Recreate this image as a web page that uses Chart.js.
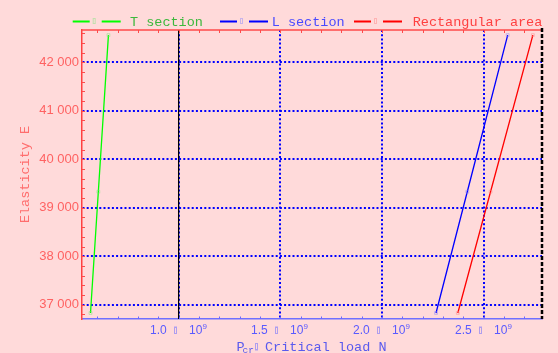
<!DOCTYPE html>
<html>
<head>
<meta charset="utf-8">
<script src="https://cdn.jsdelivr.net/npm/chart.js@4.4.1/dist/chart.umd.min.js"></script>
<style>
  html, body { margin: 0; padding: 0; background: #ffdada; }
  #wrap { width: 558px; height: 353px; }
</style>
</head>
<body>
<div id="wrap"><canvas id="c" width="558" height="353"></canvas></div>
<script>
// Series: critical load P (N) against elasticity E for three cross-sections
const seriesNames = ['T section', 'L section', 'Rectangular area'];
const seriesColors = ['#00ff00', '#0000ff', '#ff0000'];
const elasticity = [36830, 39330, 42560];
const loadT = [5.668e8, 6.053e8, 6.550e8];
const loadL = [2.2658e9, 2.4196e9, 2.6183e9];
const loadR = [2.3730e9, 2.5340e9, 2.7421e9];

// Axis ticks
const yTickValues = [37000, 38000, 39000, 40000, 41000, 42000];
const yTickLabels = ['37 000', '38 000', '39 000', '40 000', '41 000', '42 000'];
const xTickValues = [1.0e9, 1.5e9, 2.0e9, 2.5e9];
const xTickMantissas = ['1.0', '1.5', '2.0', '2.5'];
const xTickExponent = '9';

const xTitleMain = 'P';
const xTitleSub = 'cr';
const xTitleRest = 'Critical load N';
const yTitle = 'Elasticity E';

const loads = [loadT, loadL, loadR];
const paleColors = ['rgba(120,230,120,0.45)', 'rgba(130,130,255,0.45)', 'rgba(255,130,130,0.45)'];

const datasets = seriesNames.map((name, i) => ({
  label: name,
  data: elasticity.map((e, j) => ({ x: loads[i][j], y: e })),
  borderColor: seriesColors[i],
  borderWidth: 1.3,
  showLine: true,
  fill: false,
  pointStyle: 'rect',
  pointRadius: 2,
  pointBackgroundColor: 'rgba(0,0,0,0)',
  pointBorderColor: paleColors[i],
  pointBorderWidth: 1
}));

const legendSpots = [{ seg: 72.7, text: 130 }, { seg: 220, text: 271.7 }, { seg: 354, text: 412.7 }];
const legendTextColors = ['#3cb83c', '#4a4aff', '#ff4040'];

const decorations = {
  id: 'decorations',
  beforeDraw(chart) {
    const ctx = chart.ctx;
    ctx.save();
    ctx.fillStyle = '#ffdada';
    ctx.fillRect(0, 0, chart.width, chart.height);
    ctx.restore();
  },
  beforeDatasetsDraw(chart) {
    const { ctx, chartArea: a, scales: { x, y } } = chart;
    ctx.save();
    // solid black line at the first labelled load
    const xb = x.getPixelForValue(xTickValues[0]);
    ctx.strokeStyle = '#000';
    ctx.lineWidth = 1.2;
    ctx.beginPath(); ctx.moveTo(xb, a.top); ctx.lineTo(xb, a.bottom); ctx.stroke();

    // top frame edge
    ctx.strokeStyle = '#ff4a4a';
    ctx.lineWidth = 1.5;
    ctx.beginPath(); ctx.moveTo(a.left, a.top); ctx.lineTo(a.right, a.top); ctx.stroke();

    // minor ticks, top (red) and bottom (blue)
    ctx.lineWidth = 1;
    for (let k = 6; k <= 27; k++) {
      const px = Math.round(x.getPixelForValue(k * 1e8)) + 0.5;
      ctx.strokeStyle = '#ff4a4a';
      ctx.beginPath(); ctx.moveTo(px, a.top); ctx.lineTo(px, a.top + 3); ctx.stroke();
      ctx.strokeStyle = '#6a6aff';
      ctx.beginPath(); ctx.moveTo(px, a.bottom); ctx.lineTo(px, a.bottom - 2.5); ctx.stroke();
    }
    // minor ticks, left (red)
    ctx.strokeStyle = '#ff4a4a';
    for (let k = 184; k <= 213; k++) {
      const py = Math.round(y.getPixelForValue(k * 200)) + 0.5;
      ctx.beginPath(); ctx.moveTo(a.left, py); ctx.lineTo(a.left + 3, py); ctx.stroke();
    }

    // dashed right frame edge
    ctx.strokeStyle = '#000';
    ctx.lineWidth = 2.5;
    ctx.setLineDash([4, 2]);
    ctx.beginPath(); ctx.moveTo(a.right, a.top - 2); ctx.lineTo(a.right, a.bottom); ctx.stroke();
    ctx.restore();
  },
  afterDraw(chart) {
    const { ctx, chartArea: a, scales: { x } } = chart;
    ctx.save();

    // legend
    chart.data.datasets.forEach((ds, i) => {
      const s = legendSpots[i];
      const ly = 21.5;
      ctx.strokeStyle = ds.borderColor;
      ctx.lineWidth = 2;
      ctx.beginPath(); ctx.moveTo(s.seg, ly); ctx.lineTo(s.seg + 17, ly); ctx.stroke();
      ctx.beginPath(); ctx.moveTo(s.seg + 29, ly); ctx.lineTo(s.seg + 48, ly); ctx.stroke();
      ctx.strokeStyle = paleColors[i];
      ctx.lineWidth = 1;
      ctx.strokeRect(s.seg + 20.5, 18.5, 2, 5);
      ctx.fillStyle = legendTextColors[i];
      ctx.font = '13.5px "Liberation Mono", monospace';
      ctx.textBaseline = 'alphabetic';
      ctx.textAlign = 'left';
      ctx.fillText(ds.label, s.text, 25.5);
    });

    // x tick labels: mantissa, box, 10 with raised exponent
    xTickValues.forEach((v, i) => {
      const cx = Math.round(x.getPixelForValue(v));
      const base = 333.5;
      ctx.fillStyle = '#5a5aff';
      ctx.textAlign = 'left';
      ctx.font = '12px "Liberation Sans", sans-serif';
      ctx.fillText(xTickMantissas[i], cx - 29, base);
      ctx.strokeStyle = 'rgba(110,110,255,0.55)';
      ctx.lineWidth = 1;
      ctx.strokeRect(cx - 4.5, base - 6.5, 2, 6.5);
      ctx.fillText('10', cx + 10, base);
      ctx.font = '8px "Liberation Sans", sans-serif';
      ctx.fillText(xTickExponent, cx + 23.5, base - 5);
    });

    // x axis title with subscript
    ctx.fillStyle = '#5a5aee';
    ctx.textAlign = 'left';
    ctx.font = '13.5px "Liberation Mono", monospace';
    ctx.fillText(xTitleMain, 236.5, 350.5);
    ctx.font = '9.5px "Liberation Mono", monospace';
    ctx.fillText(xTitleSub, 242.5, 353);
    ctx.strokeStyle = 'rgba(110,110,255,0.55)';
    ctx.strokeRect(255.5, 343.5, 2, 6.5);
    ctx.font = '13.5px "Liberation Mono", monospace';
    ctx.fillText(xTitleRest, 265, 350.5);

    // y axis title
    ctx.translate(25, (a.top + a.bottom) / 2);
    ctx.rotate(-Math.PI / 2);
    ctx.textAlign = 'center';
    ctx.textBaseline = 'middle';
    ctx.fillStyle = '#ff6e6e';
    ctx.font = '13.5px "Liberation Mono", monospace';
    ctx.fillText(yTitle, 0, 0);
    ctx.restore();
  }
};

new Chart(document.getElementById('c'), {
  type: 'scatter',
  data: { datasets },
  options: {
    responsive: false,
    devicePixelRatio: 1,
    animation: false,
    layout: { padding: { top: 30, right: 16, left: 0, bottom: 0 } },
    plugins: { legend: { display: false }, tooltip: { enabled: false } },
    scales: {
      x: {
        type: 'linear',
        min: 0.525e9,
        max: 2.787e9,
        afterBuildTicks: s => { s.ticks = xTickValues.map(v => ({ value: v })); },
        afterFit: s => { s.height = 34; },
        grid: { color: '#0000ff', lineWidth: 2, drawTicks: false },
        border: { display: true, color: '#7070ff', width: 1.5, dash: [2, 2.2] },
        ticks: { display: false }
      },
      y: {
        type: 'linear',
        min: 36706,
        max: 42665,
        afterBuildTicks: s => { s.ticks = yTickValues.map(v => ({ value: v })); },
        afterFit: s => { s.width = 82; },
        grid: { color: '#0000ff', lineWidth: 2, drawTicks: false },
        border: { display: true, color: '#ff4040', width: 1.5, dash: [2, 2.2] },
        ticks: {
          padding: 3,
          color: '#ff6262',
          font: { family: '"Liberation Sans", sans-serif', size: 13 },
          callback: (v, i) => yTickLabels[i]
        }
      }
    }
  },
  plugins: [decorations]
});
</script>
</body>
</html>
